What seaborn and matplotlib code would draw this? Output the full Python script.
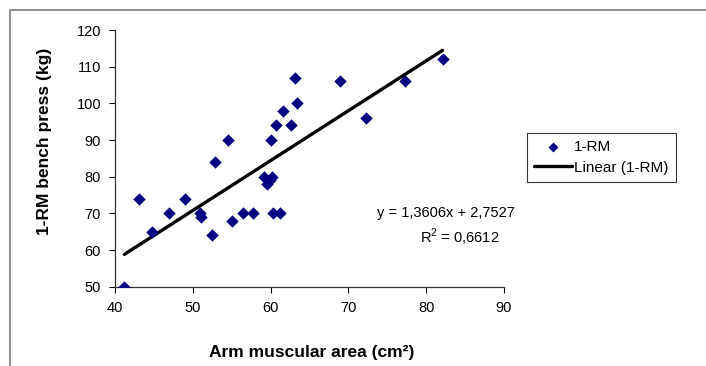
import numpy as np
import pandas as pd
import matplotlib
matplotlib.use("Agg")
import matplotlib.pyplot as plt
import seaborn as sns

arm_area = [41.2, 43.1, 44.7, 47.0, 49.0, 50.9, 51.1, 52.5, 52.9, 54.5,
            55.1, 56.5, 57.7, 59.1, 59.5, 59.9, 60.2, 60.1, 60.3, 61.2,
            60.7, 61.6, 62.6, 63.1, 63.4, 68.9, 72.2, 77.3, 82.1]
bench_1rm = [50, 74, 65, 70, 74, 70, 69, 64, 84, 90,
             68, 70, 70, 80, 78, 79, 80, 90, 70, 70,
             94, 98, 94, 107, 100, 106, 96, 106, 112]
trend_slope = 1.3606
trend_intercept = 2.7527
equation_text = "y = 1,3606x + 2,7527"
r2_text = "R$^2$ = 0,6612"
x_ticks = [40, 50, 60, 70, 80, 90]
y_ticks = [50, 60, 70, 80, 90, 100, 110, 120]

sns.set_theme(style="white")
plt.rcParams['font.family'] = ['Liberation Sans', 'DejaVu Sans']
plt.rcParams['mathtext.fontset'] = 'custom'
plt.rcParams['mathtext.rm'] = 'Liberation Sans'
plt.rcParams['text.color'] = 'black'
plt.rcParams['axes.labelcolor'] = 'black'

df = pd.DataFrame({"x": arm_area, "y": bench_1rm})
xs = np.array([min(arm_area), max(arm_area)])
trend = pd.DataFrame({"x": xs, "y": trend_slope * xs + trend_intercept})

fig = plt.figure(figsize=(7.06, 3.66), dpi=100)
ax = fig.add_axes([115/706, 1 - 286.7/366, (504-115)/706, (286.7-30)/366])

sns.scatterplot(data=df, x="x", y="y", marker="D", color="#000080", s=40,
                edgecolor="#000080", linewidth=0, ax=ax, label="1-RM", zorder=3)
sns.lineplot(data=trend, x="x", y="y", color="black", linewidth=2.4, ax=ax,
             label="Linear (1-RM)", zorder=2)

ax.set_xlim(40, 90)
ax.set_ylim(50, 120)
ax.set_xticks(x_ticks)
ax.set_yticks(y_ticks)
ax.tick_params(axis='both', labelsize=10.5, colors='black', length=4, width=0.8,
               direction='out', bottom=True, left=True, pad=6)
for s in ['top', 'right']:
    ax.spines[s].set_visible(False)
for s in ['left', 'bottom']:
    ax.spines[s].set_color('#333333')
    ax.spines[s].set_linewidth(0.9)
ax.set_xlabel("Arm muscular area (cm²)", fontsize=12.5, fontweight='bold', color='black')
ax.set_ylabel("1-RM bench press (kg)", fontsize=12.5, fontweight='bold', color='black')
ax.xaxis.set_label_coords((311.7 - 115) / 389, -(352 - 286.7) / 256.7)
ax.yaxis.set_label_coords((45 - 115) / 389, (286.7 - 141.5) / 256.7)
ax.xaxis.label.set_va('center')
ax.yaxis.label.set_va('center')

handles, labels = ax.get_legend_handles_labels()
ax.legend_.remove()

fig.text(446/706, 1 - 213/366, equation_text, fontsize=10.5, ha='center', va='center', color='black')
fig.text(460/706, 1 - 237/366, r2_text, fontsize=10.5, ha='center', va='center', color='black')

leg = fig.legend(handles, labels, loc='upper left',
                 bbox_to_anchor=(527/706, 1 - 133/366), fontsize=11,
                 frameon=True, fancybox=False, edgecolor='black',
                 borderpad=0.45, handlelength=2.5, handletextpad=0.15,
                 labelspacing=0.45, borderaxespad=0, markerscale=0.8)
leg.get_frame().set_linewidth(0.8)
for t in leg.get_texts():
    t.set_color('black')

# outer chart border (left and top)
fig.add_artist(plt.Line2D([10/706, 10/706], [0, 1 - 10/366], color='#909090', linewidth=1.5))
fig.add_artist(plt.Line2D([10/706, 1], [1 - 10/366, 1 - 10/366], color='#909090', linewidth=1.5))

fig.savefig("out.png", dpi=100)
